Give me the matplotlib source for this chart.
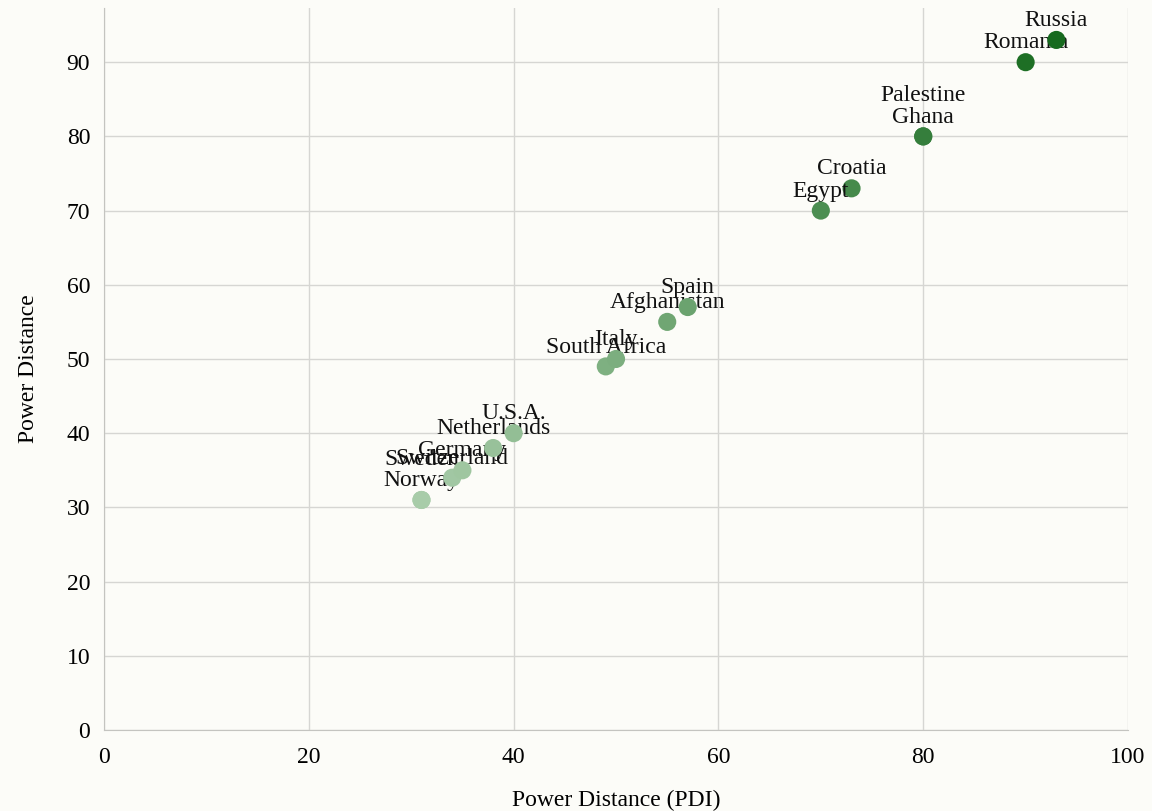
import matplotlib.pyplot as plt
from matplotlib.colors import LinearSegmentedColormap, Normalize

# Hofstede power distance, per country (x and y are the same score)
countries = ["Norway", "Sweden", "Switzerland", "Germany", "Netherlands", "U.S.A.",
             "South Africa", "Italy", "Afghanistan", "Spain", "Croatia", "Egypt",
             "Ghana", "Palestine", "Romania", "Russia"]
pdi_x = [31, 31, 34, 35, 38, 40, 49, 50, 55, 57, 73, 70, 80, 80, 90, 93]
pdi_y = [31, 31, 34, 35, 38, 40, 49, 50, 55, 57, 73, 70, 80, 80, 90, 93]

plt.rcParams['font.family'] = ['Liberation Serif', 'DejaVu Serif']
bg = '#fcfcf8'
fs = 17

fig = plt.figure(figsize=(11.52, 8.11), dpi=100, facecolor=bg)
ax = fig.add_axes([0.0903, 0.0999, 0.8889, 0.8902])
ax.set_facecolor(bg)

cmap = LinearSegmentedColormap.from_list('greens', ['#a8cca9', '#176a1f'])
norm = Normalize(min(pdi_y), max(pdi_y))

seen = {}
for i, (name, x, y) in enumerate(zip(countries, pdi_x, pdi_y)):
    # labels of points sharing a position get stacked one line up
    n = seen.get((x, y), 0)
    seen[(x, y)] = n + 1
    ax.annotate(name, (x, y), xytext=(0, 10 + 15.5 * n), textcoords='offset points',
                ha='center', va='baseline', fontsize=fs, color='#111111',
                zorder=3 + 2 * i)
    ax.scatter([x], [y], s=170, color=cmap(norm(y)), edgecolors='none',
               zorder=4 + 2 * i)

ax.set_xlim(0, 100)
ax.set_ylim(0, 97.3)
ax.set_xticks(range(0, 101, 20))
ax.set_yticks(range(0, 91, 10))
ax.grid(True, color='#d6d6d3', linewidth=1)
ax.set_axisbelow(True)
for s in ['top', 'right']:
    ax.spines[s].set_visible(False)
for s in ['left', 'bottom']:
    ax.spines[s].set_color('#c4c4c0')
ax.tick_params(axis='x', length=0, pad=12, labelsize=fs)
ax.tick_params(axis='y', length=0, pad=10, labelsize=fs)
ax.set_xlabel("Power Distance (PDI)", fontsize=fs, labelpad=16)
ax.set_ylabel("Power Distance", fontsize=fs, labelpad=20)

fig.savefig('out.png', dpi=100, facecolor=bg)
